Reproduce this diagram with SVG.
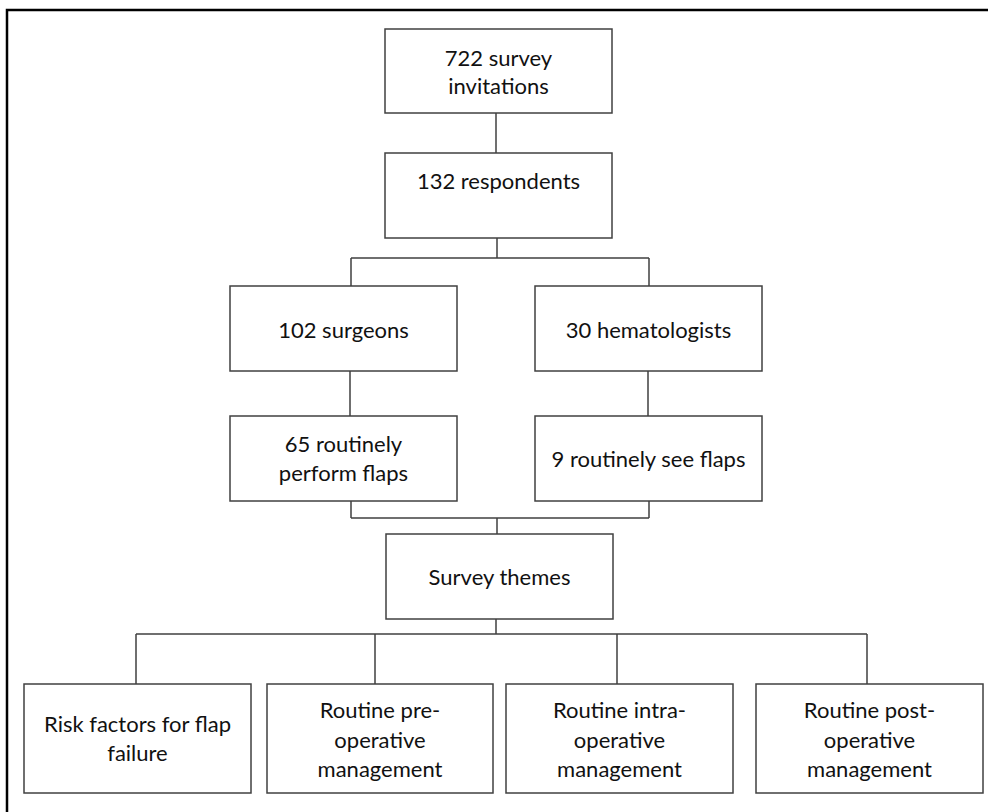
<svg xmlns="http://www.w3.org/2000/svg" width="988" height="812" viewBox="0 0 988 812">
<style>
.box{fill:#fff;stroke:#404040;stroke-width:1.5}
.ln{stroke:#404040;stroke-width:1.5;fill:none}
.frame{stroke:#000;stroke-width:2.5;fill:none}
text{font-family:Lato,"Open Sans","Liberation Sans",sans-serif;font-size:22px;fill:#111;text-anchor:middle}
</style>
<rect width="988" height="812" fill="#fff"/>
<path class="frame" d="M7,812 V10 H988"/>
<g id="connectors">
<path class="ln" d="M496,113 V153"/>
<path class="ln" d="M497,238 V258 M351,258 H649 M351,258 V286 M649,258 V286"/>
<path class="ln" d="M350,371 V416 M648,371 V416"/>
<path class="ln" d="M351,501 V518 M649,501 V518 M351,518 H649 M497,518 V534"/>
<path class="ln" d="M496,619 V634 M136,634 H867 M136,634 V684 M375,634 V684 M617,634 V684 M867,634 V684"/>
</g>
<g id="invitations"><rect class="box" x="385" y="29" width="227" height="84"/><text x="498.5" y="66">722 survey</text><text x="498.5" y="94">invitations</text></g>
<g id="respondents"><rect class="box" x="385" y="153" width="227" height="85"/><text x="498.5" y="189">132 respondents</text></g>
<g id="surgeons"><rect class="box" x="230" y="286" width="227" height="85"/><text x="343.5" y="338">102 surgeons</text></g>
<g id="hematologists"><rect class="box" x="535" y="286" width="227" height="85"/><text x="648.5" y="338">30 hematologists</text></g>
<g id="perform"><rect class="box" x="230" y="416" width="227" height="85"/><text x="343.5" y="452">65 routinely</text><text x="343.5" y="481">perform flaps</text></g>
<g id="see"><rect class="box" x="535" y="416" width="227" height="85"/><text x="648.5" y="467">9 routinely see flaps</text></g>
<g id="themes"><rect class="box" x="386" y="534" width="227" height="85"/><text x="499.5" y="585">Survey themes</text></g>
<g id="risk"><rect class="box" x="24" y="684" width="227" height="109"/><text x="137.5" y="732">Risk factors for flap</text><text x="137.5" y="761">failure</text></g>
<g id="pre"><rect class="box" x="267" y="684" width="226" height="109"/><text x="380" y="718">Routine pre-</text><text x="380" y="748">operative</text><text x="380" y="777">management</text></g>
<g id="intra"><rect class="box" x="506" y="684" width="227" height="109"/><text x="619.5" y="718">Routine intra-</text><text x="619.5" y="748">operative</text><text x="619.5" y="777">management</text></g>
<g id="post"><rect class="box" x="756" y="684" width="227" height="109"/><text x="869.5" y="718">Routine post-</text><text x="869.5" y="748">operative</text><text x="869.5" y="777">management</text></g>
</svg>
